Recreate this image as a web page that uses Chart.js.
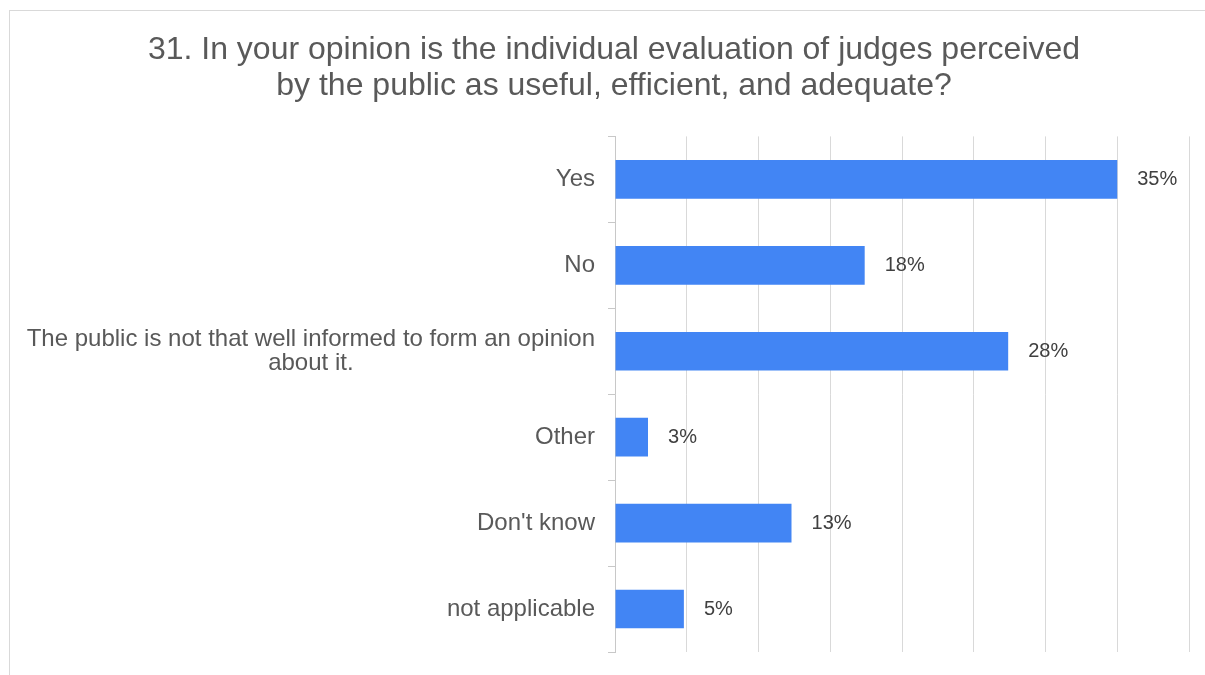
<!DOCTYPE html>
<html>
<head>
<meta charset="utf-8">
<script src="https://cdn.jsdelivr.net/npm/chart.js"></script>
<style>
    html, body { margin: 0; padding: 0; background: #fff; overflow: hidden; }
    #box { position: absolute; left: 9px; top: 10px; width: 1208px; height: 670px; border: 1px solid #d9d9d9; }
</style>
</head>
<body>
<div id="box"><canvas id="opinionChart"></canvas></div>

<script>
    // answers, share of respondents (%) and the labels printed next to the bars
    var categories = ['Yes', 'No', ['The public is not that well informed to form an opinion', 'about it.'], 'Other', "Don't know", 'not applicable'];
    var shares = [35.0, 17.4, 27.4, 2.3, 12.3, 4.8];
    var shareLabels = ['35%', '18%', '28%', '3%', '13%', '5%'];
    var axisMax = 40;
    var axisStep = 5;

    var fontFamily = '"Liberation Sans", Arial, sans-serif';

    // category labels: right aligned, wrapped lines centred on each other
    var categoryLabels = {
        id: 'categoryLabels',
        afterDraw: function (chart) {
            var ctx = chart.ctx;
            var scale = chart.scales.y;
            var lineHeight = 24;
            ctx.save();
            ctx.font = '24px ' + fontFamily;
            ctx.fillStyle = '#595959';
            ctx.textAlign = 'center';
            ctx.textBaseline = 'middle';
            var right = scale.right - 20;
            categories.forEach(function (label, i) {
                var lines = [].concat(label);
                var widest = Math.max.apply(null, lines.map(function (l) { return ctx.measureText(l).width; }));
                var y = scale.getPixelForValue(i) - (lines.length - 1) * lineHeight / 2;
                lines.forEach(function (line, j) {
                    ctx.fillText(line, right - widest / 2, y + j * lineHeight);
                });
            });
            ctx.restore();
        }
    };

    // percentage printed after each bar
    var valueLabels = {
        id: 'valueLabels',
        afterDatasetsDraw: function (chart) {
            var ctx = chart.ctx;
            ctx.save();
            ctx.font = '20px ' + fontFamily;
            ctx.fillStyle = '#404040';
            ctx.textAlign = 'left';
            ctx.textBaseline = 'middle';
            chart.getDatasetMeta(0).data.forEach(function (bar, i) {
                ctx.fillText(shareLabels[i], bar.x + 20, bar.y);
            });
            ctx.restore();
        }
    };

    document.addEventListener('DOMContentLoaded', function () {
        var ctx = document.getElementById('opinionChart').getContext('2d');
        new Chart(ctx, {
            type: 'bar',
            data: {
                labels: categories,
                datasets: [{
                    data: shares,
                    backgroundColor: '#4285F4',
                    borderWidth: 0,
                    barPercentage: 0.9,
                    categoryPercentage: 0.5
                }]
            },
            options: {
                indexAxis: 'y',
                responsive: true,
                maintainAspectRatio: false,
                animation: false,
                layout: {
                    padding: { left: 0, right: 0, top: 0, bottom: 29 }
                },
                scales: {
                    x: {
                        min: 0,
                        max: axisMax,
                        ticks: { display: false, stepSize: axisStep },
                        grid: { color: '#d9d9d9', lineWidth: 1, drawTicks: false },
                        border: { display: false }
                    },
                    y: {
                        ticks: { display: false },
                        grid: { drawOnChartArea: false, tickLength: 7, color: '#c8c8c8' },
                        border: { display: true, color: '#c8c8c8' },
                        afterFit: function (scale) { scale.width = 605; }
                    },
                    // empty strip on the right so the title stays centred on the whole box
                    spacer: {
                        type: 'linear',
                        position: 'right',
                        ticks: { display: false },
                        grid: { display: false },
                        border: { display: false },
                        afterFit: function (scale) { scale.width = 29; }
                    }
                },
                plugins: {
                    legend: { display: false },
                    tooltip: { enabled: false },
                    title: {
                        display: true,
                        text: ['31. In your opinion is the individual evaluation of judges perceived', 'by the public as useful, efficient, and adequate?'],
                        color: '#595959',
                        font: { family: fontFamily, size: 32, weight: 'normal', lineHeight: 1.1 },
                        padding: { top: 22, bottom: 33 }
                    }
                }
            },
            plugins: [categoryLabels, valueLabels]
        });
    });
</script>
</body>
</html>
